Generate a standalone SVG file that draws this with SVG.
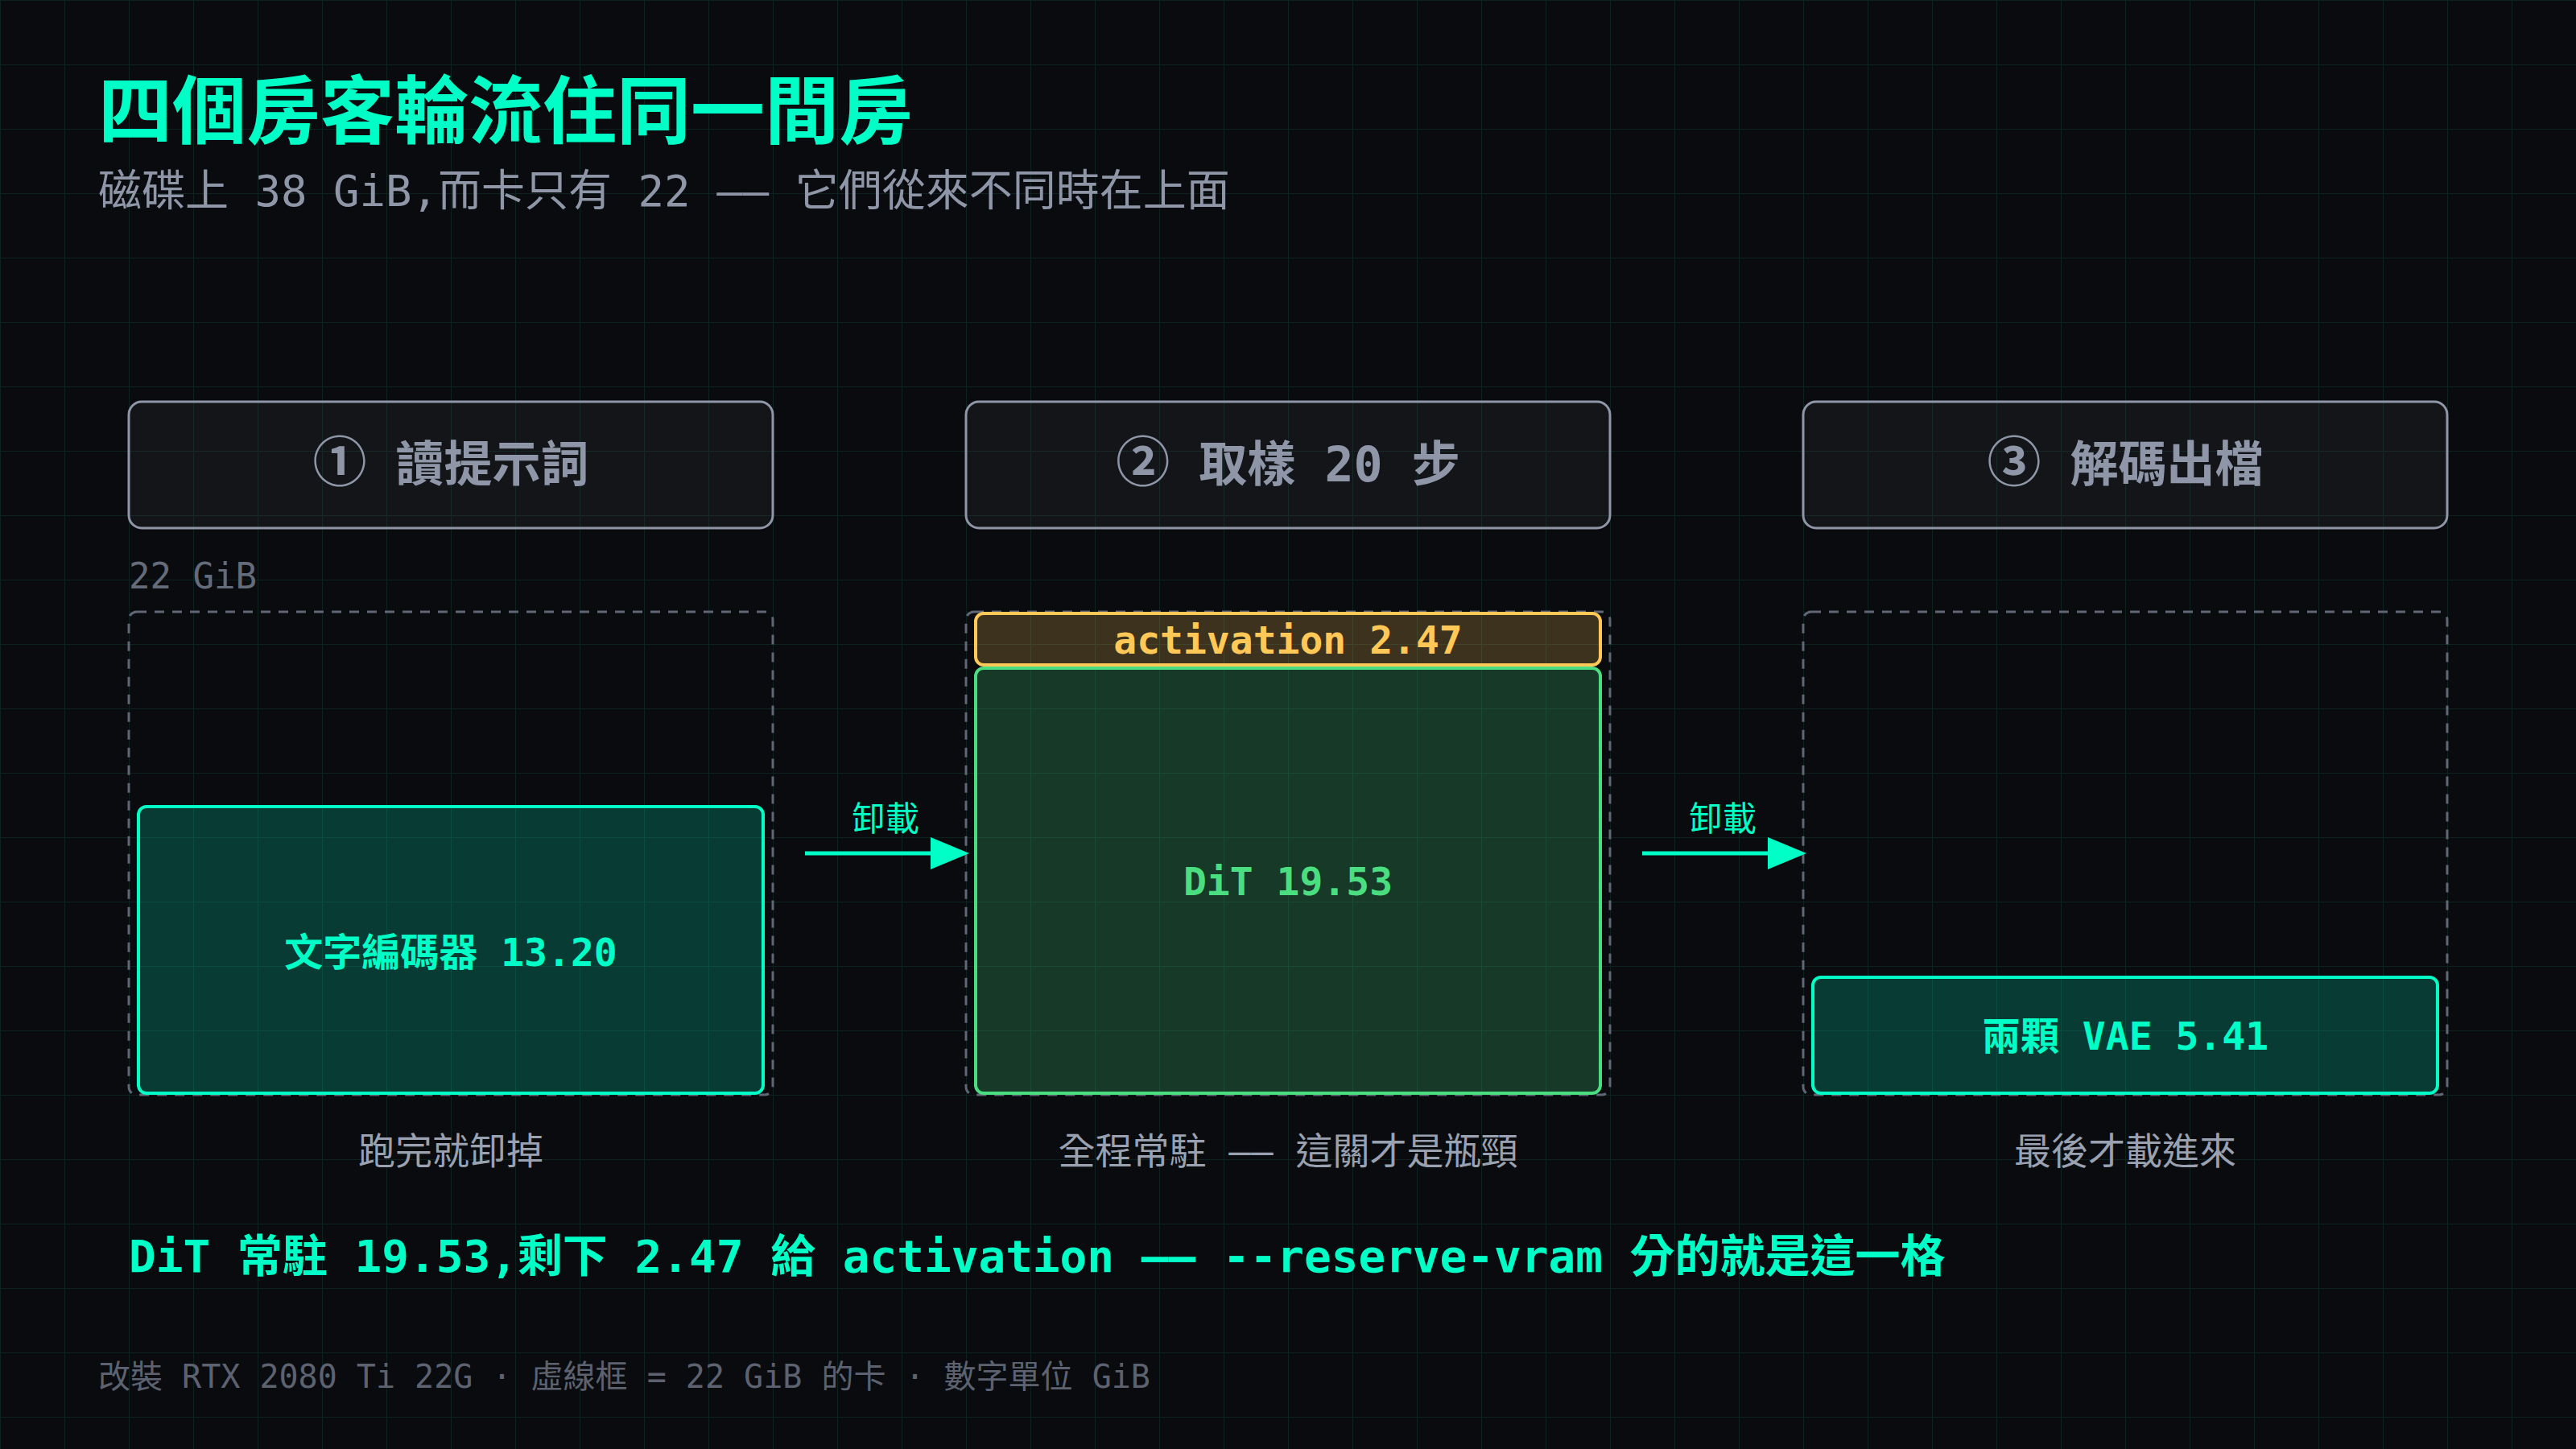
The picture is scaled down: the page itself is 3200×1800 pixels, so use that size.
<svg xmlns="http://www.w3.org/2000/svg" width="3200" height="1800" viewBox="0 0 3200 1800">
  <defs>
    <pattern id="grid" width="80" height="80" patternUnits="userSpaceOnUse">
      <path d="M80 0 L0 0 0 80" fill="none" stroke="#0d211e" stroke-width="2"/>
    </pattern>
    <marker id="arrow" markerUnits="userSpaceOnUse" viewBox="0 0 48 40" refX="4" refY="20" markerWidth="48" markerHeight="40" orient="auto">
      <path d="M0 0 L48 20 L0 40 Z" fill="#00ffc6"/>
    </marker>
    <style>
      .mono { font-family: "DejaVu Sans Mono", "Noto Sans CJK TC", monospace; }
      .title { font-family: "Noto Sans CJK TC", "DejaVu Sans", sans-serif; font-weight: 700; font-size: 92px; fill: #00ffc6; }
      .sub { font-size: 54px; fill: #8e96a8; }
      .stage rect { fill: #8e96a8; fill-opacity: 0.07; stroke: #8e96a8; stroke-width: 3; }
      .stage text { font-size: 60px; font-weight: 700; fill: #8e96a8; text-anchor: middle; }
      .stage .num { font-family: "Noto Sans CJK TC", sans-serif; font-size: 67px; }
      .card { fill: none; stroke: #5f6676; stroke-width: 3; stroke-dasharray: 12 10; }
      .cap { font-size: 46px; fill: #9aa1b0; text-anchor: middle; }
      .teal rect { fill: #00ffc6; fill-opacity: 0.2; stroke: #00ffc6; stroke-width: 4; }
      .teal text { fill: #00ffc6; }
      .green rect { fill: #4ade80; fill-opacity: 0.22; stroke: #4ade80; stroke-width: 4; }
      .green text { fill: #4ade80; }
      .amber rect { fill: #ffc857; fill-opacity: 0.21; stroke: #ffc857; stroke-width: 4; }
      .amber text { fill: #ffc857; }
      .blk text { font-size: 48px; font-weight: 700; text-anchor: middle; }
      .conn line { stroke: #00ffc6; stroke-width: 5; marker-end: url(#arrow); }
      .conn text { font-size: 42px; fill: #00ffc6; text-anchor: middle; }
      .dim { fill: #646b7a; }
    </style>
  </defs>

  <rect width="3200" height="1800" fill="#0a0b0f"/>
  <rect width="3200" height="1800" fill="url(#grid)"/>

  <text class="title" x="122" y="171">四個房客輪流住同一間房</text>
  <text class="mono sub" x="122" y="256">磁碟上 38 GiB,而卡只有 22 —— 它們從來不同時在上面</text>

  <g id="stage1" class="stage mono">
    <rect x="160" y="499" width="800" height="157" rx="16"/>
    <text x="560" y="598"><tspan class="num">①</tspan> 讀提示詞</text>
  </g>
  <g id="stage2" class="stage mono">
    <rect x="1200" y="499" width="800" height="157" rx="16"/>
    <text x="1600" y="598"><tspan class="num">②</tspan> 取樣 20 步</text>
  </g>
  <g id="stage3" class="stage mono">
    <rect x="2240" y="499" width="800" height="157" rx="16"/>
    <text x="2640" y="598"><tspan class="num">③</tspan> 解碼出檔</text>
  </g>

  <text class="mono dim" x="160" y="731" font-size="44">22 GiB</text>

  <g id="card1">
    <rect class="card" x="160" y="760" width="800" height="600" rx="10"/>
  </g>
  <g id="card2">
    <rect class="card" x="1200" y="760" width="800" height="600" rx="10"/>
  </g>
  <g id="card3">
    <rect class="card" x="2240" y="760" width="800" height="600" rx="10"/>
  </g>

  <g id="text-encoder" class="blk teal mono">
    <rect x="172" y="1002" width="776" height="356" rx="10"/>
    <text x="560" y="1200">文字編碼器 13.20</text>
  </g>
  <g id="activation" class="blk amber mono">
    <rect x="1212" y="762" width="776" height="64" rx="10"/>
    <text x="1600" y="812">activation 2.47</text>
  </g>
  <g id="dit" class="blk green mono">
    <rect x="1212" y="830" width="776" height="528" rx="10"/>
    <text x="1600" y="1112">DiT 19.53</text>
  </g>
  <g id="vae" class="blk teal mono">
    <rect x="2252" y="1214" width="776" height="144" rx="10"/>
    <text x="2640" y="1304">兩顆 VAE 5.41</text>
  </g>

  <g id="connectors" class="conn mono">
    <line x1="1000" y1="1060" x2="1160" y2="1060"/>
    <text x="1100" y="1032">卸載</text>
    <line x1="2040" y1="1060" x2="2200" y2="1060"/>
    <text x="2140" y="1032">卸載</text>
  </g>

  <text class="mono cap" x="560" y="1446">跑完就卸掉</text>
  <text class="mono cap" x="1600" y="1446">全程常駐 —— 這關才是瓶頸</text>
  <text class="mono cap" x="2640" y="1446">最後才載進來</text>

  <text class="mono" x="160" y="1580" font-size="56" font-weight="700" fill="#00ffc6">DiT 常駐 19.53,剩下 2.47 給 activation —— --reserve-vram 分的就是這一格</text>

  <text class="mono" x="122" y="1724" font-size="40" fill="#5c6270">改裝 RTX 2080 Ti 22G · 虛線框 = 22 GiB 的卡 · 數字單位 GiB</text>
</svg>
